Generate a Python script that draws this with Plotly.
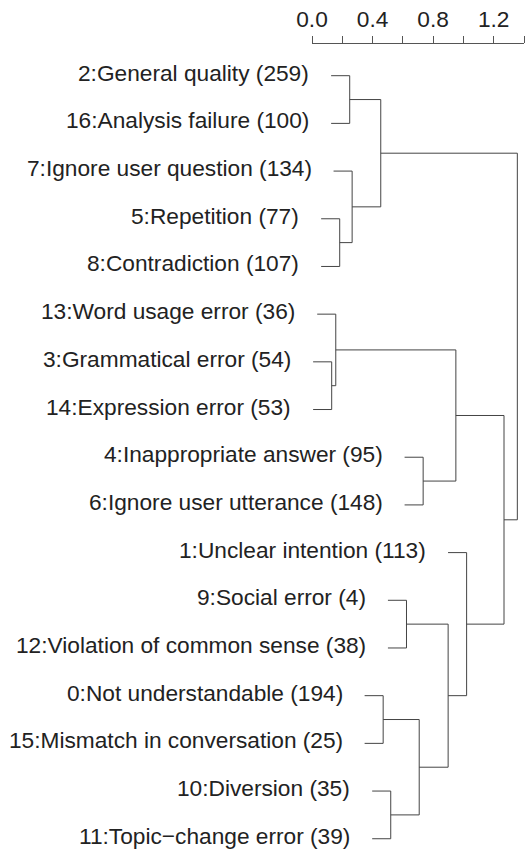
import plotly.graph_objects as go

# ---- data ----
leaf_names = {
    0: "0:Not understandable (194)",
    1: "1:Unclear intention (113)",
    2: "2:General quality (259)",
    3: "3:Grammatical error (54)",
    4: "4:Inappropriate answer (95)",
    5: "5:Repetition (77)",
    6: "6:Ignore user utterance (148)",
    7: "7:Ignore user question (134)",
    8: "8:Contradiction (107)",
    9: "9:Social error (4)",
    10: "10:Diversion (35)",
    11: "11:Topic\u2212change error (39)",
    12: "12:Violation of common sense (38)",
    13: "13:Word usage error (36)",
    14: "14:Expression error (53)",
    15: "15:Mismatch in conversation (25)",
    16: "16:Analysis failure (100)",
}
leaf_order = [2, 16, 7, 5, 8, 13, 3, 14, 4, 6, 1, 9, 12, 0, 15, 10, 11]

# merges: (child_a, child_b, height); "L#" leaf, "M#" previous merge (1-based)
merge_a = ["L3", "L13", "L5", "L2", "L7", "M4", "L0", "L10", "L9", "M7", "L4", "M9", "M2", "L1", "M13", "M6"]
merge_b = ["L14", "M1", "L8", "L16", "M3", "M5", "L15", "L11", "L12", "M8", "L6", "M10", "M11", "M12", "M14", "M15"]
merge_h = [0.130, 0.157, 0.183, 0.249, 0.265, 0.454, 0.470, 0.520, 0.624, 0.708,
           0.734, 0.899, 0.950, 1.021, 1.268, 1.356]

tick_vals = [0.0, 0.2, 0.4, 0.6, 0.8, 1.0, 1.2, 1.4]
tick_text = ["0.0", "", "0.4", "", "0.8", "", "1.2", ""]

hang = 0.1 * (max(merge_h) - min(merge_h))

# ---- build dendrogram segments ----
row = {leaf: i for i, leaf in enumerate(leaf_order)}
node_y = {}
node_h = {}
leaf_x = {}
xs, ys = [], []
for k, (a, b, h) in enumerate(zip(merge_a, merge_b, merge_h), start=1):
    pts = []
    for c in (a, b):
        if c.startswith("L"):
            lf = int(c[1:])
            cy = row[lf]
            cx = h - hang
            leaf_x[lf] = cx
        else:
            cy = node_y[c]
            cx = node_h[c]
        pts.append((cx, cy))
    (x1, y1), (x2, y2) = pts
    xs += [x1, h, h, x2, None]
    ys += [y1, y1, y2, y2, None]
    node_y["M%d" % k] = (y1 + y2) / 2
    node_h["M%d" % k] = h

fig = go.Figure()
fig.add_trace(go.Scatter(x=xs, y=ys, mode="lines",
                         line=dict(color="#444444", width=1),
                         hoverinfo="skip", showlegend=False))

font = dict(family="Liberation Sans, Arial, sans-serif", size=22.7, color="#222222")
for lf in leaf_order:
    fig.add_annotation(x=leaf_x[lf], y=row[lf], text=leaf_names[lf],
                       xanchor="right", yanchor="middle", xshift=-20, yshift=3,
                       showarrow=False, font=font)

W, H = 526, 852
mt, mb, ml, mr = 44, 4, 312, 2
row_px = 47.69
top_px = 75.7
plot_h = H - mt - mb
y_top = -(top_px - mt) / row_px
y_bot = y_top + plot_h / row_px

fig.update_layout(
    width=W, height=H,
    margin=dict(l=ml, r=mr, t=mt, b=mb, pad=0, autoexpand=False),
    plot_bgcolor="white", paper_bgcolor="white",
    xaxis=dict(range=[0, 1.4], side="top", tickvals=tick_vals, ticktext=tick_text,
               ticks="outside", ticklen=7, tickcolor="#555555", tickwidth=1,
               showline=True, linecolor="#555555", linewidth=1,
               showgrid=False, zeroline=False, tickfont=font,
               ticklabelstandoff=0, automargin=False),
    yaxis=dict(range=[y_bot, y_top], visible=False, showgrid=False, zeroline=False,
               automargin=False),
)

fig.write_html("out.html", config={"displayModeBar": False},
               post_script="document.body.style.margin='0';document.body.style.overflow='hidden';")
